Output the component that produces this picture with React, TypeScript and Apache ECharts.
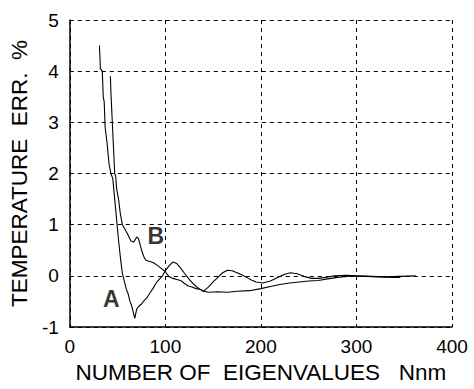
import React, { useEffect, useRef } from "react";
import * as echarts from "echarts";

const curveA: [number, number][] = [
  [31, 4.5], [31.5, 4.3], [32, 4.05], [34, 4.0], [35, 3.5], [36, 3.4], [37, 2.9], [39, 2.6],
  [41, 2.2], [43, 2.0], [45, 1.9], [47, 1.5], [49, 1.1], [51, 0.7], [53, 0.35], [55, 0.05],
  [57, -0.1], [59, -0.25], [61, -0.35], [63, -0.5], [65, -0.6], [68, -0.83], [70, -0.65],
  [72, -0.6], [75, -0.55], [78, -0.48], [81, -0.42], [84, -0.33], [87, -0.25], [90, -0.15],
  [93, -0.08], [97, 0.0], [100, 0.1], [104, 0.2], [108, 0.27], [112, 0.24], [116, 0.15],
  [120, 0.05], [125, -0.07], [130, -0.17], [135, -0.25], [140, -0.3], [145, -0.22],
  [150, -0.12], [155, -0.03], [160, 0.06], [165, 0.11], [170, 0.1], [175, 0.06], [180, 0.02],
  [185, -0.03], [190, -0.08], [195, -0.12], [202, -0.14], [210, -0.1], [218, -0.03],
  [225, 0.03], [231, 0.06], [238, 0.04], [245, -0.01], [253, -0.05], [260, -0.05],
  [268, -0.03], [277, 0.0], [290, 0.01], [300, 0.0], [315, -0.01], [330, -0.02],
  [345, -0.01], [362, 0.0],
];

const curveB: [number, number][] = [
  [42.5, 3.9], [43, 3.6], [44, 3.2], [45, 2.8], [46, 2.4], [47, 2.0], [48, 1.95], [49, 1.7],
  [51, 1.5], [53, 1.2], [55, 1.0], [58, 0.9], [61, 0.8], [64, 0.68], [67, 0.66], [70, 0.76],
  [72, 0.72], [74, 0.58], [76, 0.45], [78, 0.35], [80, 0.3], [84, 0.28], [88, 0.25],
  [92, 0.2], [96, 0.14], [100, 0.08], [104, -0.02], [108, -0.05], [112, -0.07], [116, -0.09],
  [120, -0.15], [124, -0.2], [128, -0.22], [132, -0.25], [136, -0.26], [140, -0.3],
  [145, -0.32], [155, -0.31], [165, -0.32], [175, -0.3], [188, -0.29], [200, -0.25],
  [210, -0.21], [220, -0.17], [230, -0.14], [240, -0.12], [250, -0.1], [260, -0.09],
  [270, -0.06], [280, -0.03], [295, 0.0], [310, -0.01], [325, -0.02], [340, -0.03],
  [346, -0.03],
];

const curveLabels: [number, number, string][] = [
  [43.5, -0.46, "A"],
  [90, 0.78, "B"],
];

const xTitle = "NUMBER OF  EIGENVALUES   Nnm";
const yTitle = "TEMPERATURE  ERR.  %";

export default function App() {
  const ref = useRef<HTMLDivElement>(null);
  useEffect(() => {
    document.body.style.margin = "0";
    const chart = echarts.init(ref.current!, null, { renderer: "svg" });
    const font = "Liberation Sans, Arial, sans-serif";
    const split = { show: true, lineStyle: { color: "#000", type: [4, 4] as any, width: 1 } };
    chart.setOption({
      animation: false,
      backgroundColor: "#fff",
      grid: { left: 64.5, right: 22, top: 20, bottom: 54, containLabel: false },
      xAxis: {
        type: "value",
        min: 0,
        max: 400,
        interval: 100,
        name: xTitle,
        nameLocation: "middle",
        nameGap: 34,
        nameTextStyle: { fontFamily: font, fontSize: 22.5, color: "#000" },
        axisLine: { show: true, onZero: false, lineStyle: { color: "#000", width: 1.5 } },
        axisTick: { show: false },
        axisLabel: { fontFamily: font, fontSize: 19, color: "#000", margin: 10 },
        splitLine: split,
      },
      yAxis: {
        type: "value",
        min: -1,
        max: 5,
        interval: 1,
        name: yTitle,
        nameLocation: "middle",
        nameGap: 28,
        nameRotate: 90,
        nameTextStyle: { fontFamily: font, fontSize: 22.5, color: "#000" },
        axisLine: { show: true, onZero: false, lineStyle: { color: "#000", width: 1.5 } },
        axisTick: { show: false },
        axisLabel: { fontFamily: font, fontSize: 19, color: "#000", margin: 11 },
        splitLine: split,
      },
      series: [
        {
          type: "line",
          data: curveA,
          symbol: "none",
          lineStyle: { color: "#000", width: 1.1 },
        },
        {
          type: "line",
          data: curveB,
          symbol: "none",
          lineStyle: { color: "#000", width: 1.1 },
        },
        {
          type: "scatter",
          data: curveLabels,
          symbolSize: 0,
          label: {
            show: true,
            position: "inside",
            formatter: (p: any) => p.value[2],
            fontFamily: font,
            fontSize: 23,
            fontWeight: "bold",
            color: "#000",
          },
        },
      ],
    });
    return () => chart.dispose();
  }, []);
  return <div ref={ref} style={{ width: 474, height: 389 }} />;
}
